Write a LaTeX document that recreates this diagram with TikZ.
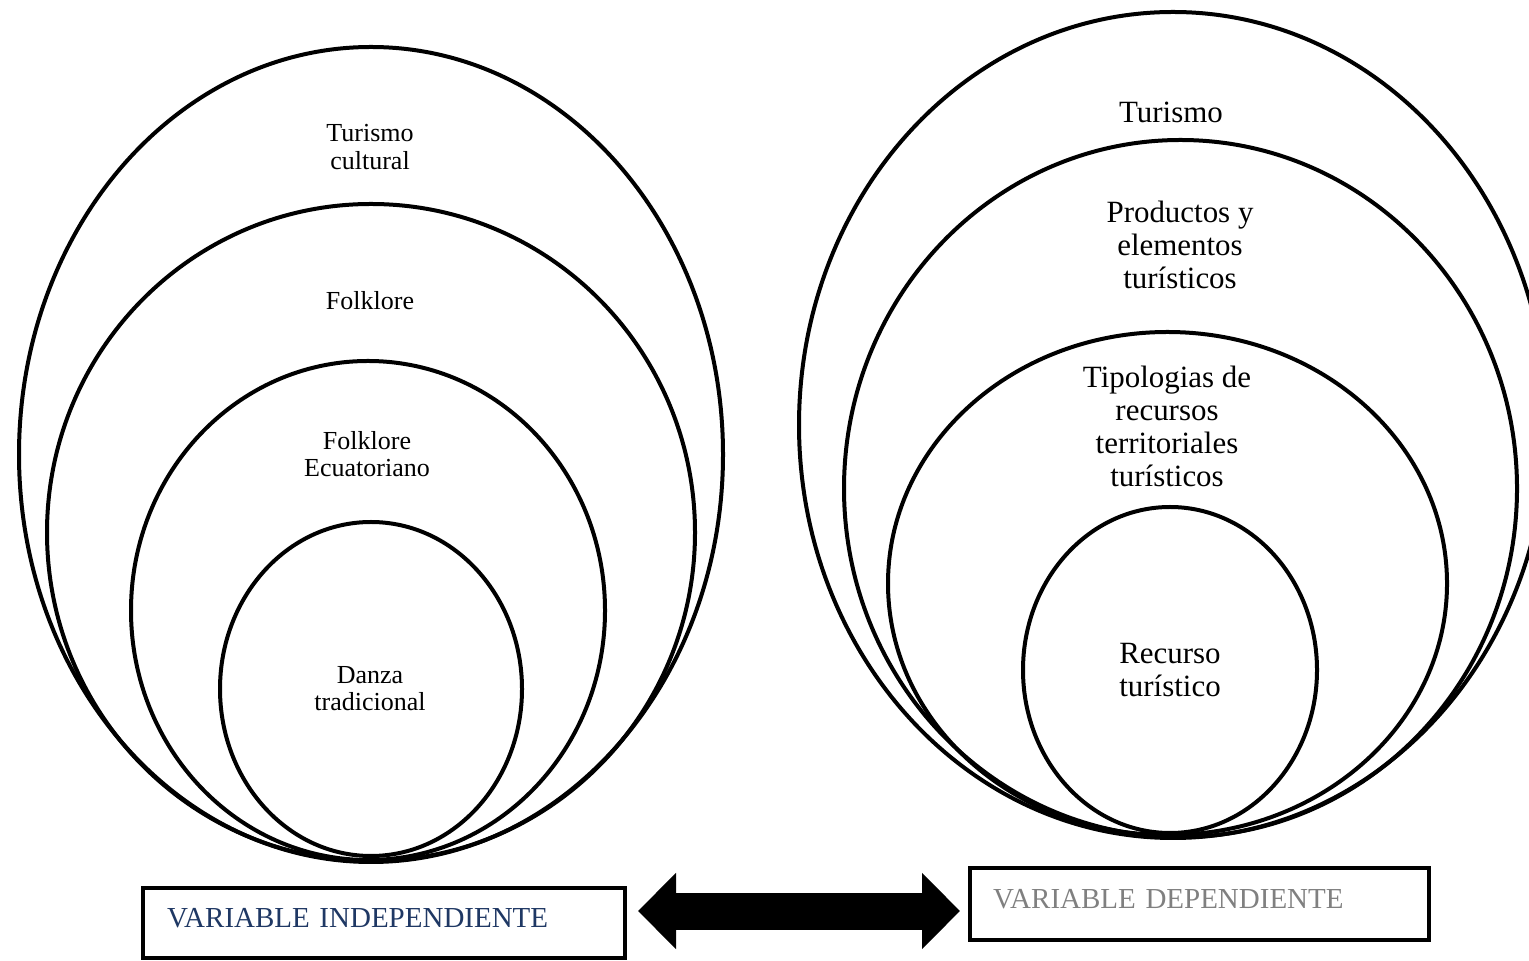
\documentclass[tikz,border=0pt]{standalone}
\usepackage{fontspec}
\setmainfont{Liberation Serif}
\usetikzlibrary{arrows.meta}

\definecolor{indepblue}{HTML}{1F3864}
\definecolor{depgray}{HTML}{808080}

\newcommand{\smalllbl}{\fontsize{14.8pt}{15.4pt}\selectfont}
\newcommand{\biglbl}{\fontsize{17.6pt}{18.8pt}\selectfont}
\newcommand{\varlbl}{\fontsize{16.5pt}{18pt}\selectfont}

\tikzset{
  ring/.style={line width=0.08cm},
  leftlbl/.style={align=center, font=\smalllbl, inner sep=0pt},
  rightlbl/.style={align=center, font=\biglbl, inner sep=0pt},
  varbox/.style={draw, line width=0.09cm, align=left, font=\varlbl, text depth=0.22cm},
  dblarrow/.style={line width=0.74cm, {Triangle[length=0.76cm, width=1.48cm]}-{Triangle[length=0.76cm, width=1.48cm]}}
}

\begin{document}
\begin{tikzpicture}
      \useasboundingbox (0, 0) rectangle (30.58, 19.2);

      % independent variable
      \draw[ring] (7.42, 10.11) ellipse [x radius=7.04, y radius=8.15];
      \draw[ring] (7.42, 8.55) ellipse [x radius=6.48, y radius=6.57];
      \draw[ring] (7.36, 6.99) ellipse [x radius=4.74, y radius=4.99];
      \draw[ring] (7.42, 5.42) ellipse [x radius=3.02, y radius=3.34];

      \node[leftlbl] (turcult) at (7.40, 16.26) {Turismo\\cultural};
      \node[leftlbl] (folk) at (7.40, 13.18) {Folklore};
      \node[leftlbl] (folkec) at (7.34, 10.12) {Folklore\\Ecuatoriano};
      \node[leftlbl] (danza) at (7.40, 5.42) {Danza\\tradicional};

      % dependent variable
      \draw[ring] (23.46, 10.70) ellipse [x radius=7.48, y radius=8.26];
      \draw[ring] (23.61, 9.43) ellipse [x radius=6.73, y radius=6.97];
      \draw[ring] (23.35, 7.53) ellipse [x radius=5.59, y radius=5.03];
      \draw[ring] (23.40, 5.80) ellipse [x radius=2.94, y radius=3.26];

      \node[rightlbl] (tur) at (23.42, 16.96) {Turismo};
      \node[rightlbl] (prod) at (23.60, 14.30) {Productos y\\elementos\\turísticos};
      \node[rightlbl] (tipo) at (23.34, 10.68) {Tipologias de\\recursos\\territoriales\\turísticos};
      \node[rightlbl] (recur) at (23.40, 5.80) {Recurso\\turístico};

      % boxes and arrow
      \node[varbox, text=indepblue, minimum width=9.64cm, minimum height=1.40cm,
            inner xsep=0.48cm, text width=8.68cm] (indep) at (7.68, 0.74) {VARIABLE INDEPENDIENTE};
      \node[varbox, text=depgray, minimum width=9.18cm, minimum height=1.44cm,
            inner xsep=0.46cm, text width=8.26cm] (dep) at (23.99, 1.12) {VARIABLE DEPENDIENTE};

      \coordinate (arrl) at (12.76, 0.98);
      \coordinate (arrr) at (19.20, 0.98);
      \draw[dblarrow] (arrl) -- (arrr);
    \end{tikzpicture}
\end{document}
